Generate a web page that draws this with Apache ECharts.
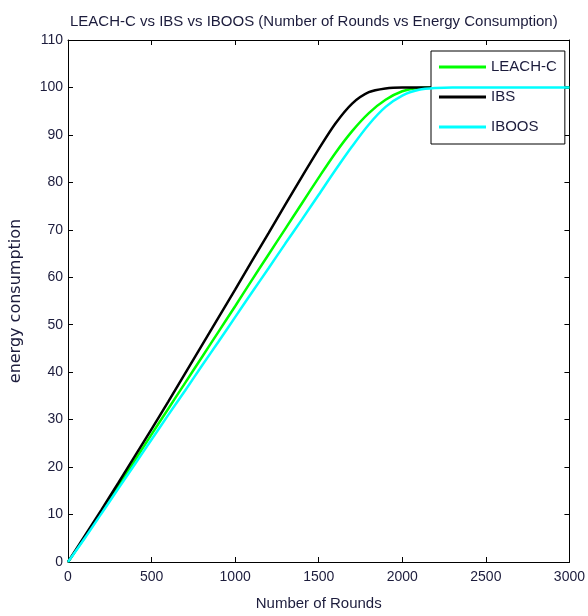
<!DOCTYPE html>
<html>
<head>
<meta charset="utf-8">
<script src="https://cdn.jsdelivr.net/npm/echarts@6/dist/echarts.min.js"></script>
<style>html,body{margin:0;padding:0;background:#fff}#c{width:588px;height:616px}</style>
</head>
<body>
<div id="c"></div>
<script>
const rounds = [0,100,200,300,400,500,600,700,800,900,1000,1100,1200,1300,1400,1500,1600,1700,1800,1900,2000,2100,2200,2300,2400,2500,2600,2700,2800,2900,3000];
const leachC = [0,5.2,10.6,16.0,21.4,26.9,32.3,37.7,43.1,48.5,53.9,59.4,64.8,70.2,75.6,81.0,86.2,90.8,94.6,97.4,99.2,99.9,100,100,100,100,100,100,100,100,100];
const ibs    = [0,5.5,11.0,16.6,22.3,28.0,33.8,39.7,45.6,51.5,57.4,63.4,69.3,75.3,81.2,87.0,92.4,96.6,99.0,99.8,100,100,100,100,100,100,100,100,100,100,100];
const iboos  = [0,5.0,10.2,15.4,20.6,25.8,31.0,36.1,41.3,46.4,51.6,56.8,61.9,67.1,72.2,77.4,82.6,87.6,92.2,95.9,98.3,99.5,99.9,100,100,100,100,100,100,100,100];
const seriesNames = ['LEACH-C','IBS','IBOOS'];
const seriesColors = ['#00ff00','#000000','#00ffff'];
const xTicks = {min:0, max:3000, interval:500};
const yTicks = {min:0, max:110, interval:10};

const FONT = "'Liberation Sans',Arial,sans-serif";
const TXT = '#1c1c3c';
const chart = echarts.init(document.getElementById('c'), null, {renderer:'canvas'});
const pairs = arr => rounds.map((r,i)=>[r, arr[i]]);
const baseAxis = {
  axisLine:{show:true, onZero:false, lineStyle:{color:'#000', width:1}},
  axisTick:{show:true, inside:true, length:5, lineStyle:{color:'#000'}},
  splitLine:{show:false}
};
chart.setOption({
  animation:false,
  backgroundColor:'#fff',
  title:{
    text:'LEACH-C vs IBS vs IBOOS (Number of Rounds vs Energy Consumption)',
    left:65, top:9,
    textStyle:{fontFamily:FONT, fontSize:15, fontWeight:'normal', color:TXT}
  },
  grid:{left:62, right:17, top:40, bottom:53},
  legend:{
    orient:'vertical', left:431, top:51,
    data:seriesNames,
    icon:'rect', itemWidth:47, itemHeight:3, itemGap:12,
    padding:[7,8,8,8],
    borderColor:'#000', borderWidth:1, backgroundColor:'#fff',
    textStyle:{fontFamily:FONT, fontSize:15, color:TXT, lineHeight:18}
  },
  xAxis:[
    Object.assign({type:'value', position:'bottom', min:xTicks.min, max:xTicks.max, interval:xTicks.interval,
      name:'Number of Rounds', nameLocation:'middle', nameGap:34,
      nameTextStyle:{fontFamily:FONT, fontSize:15, color:TXT},
      axisLabel:{fontFamily:FONT, fontSize:14, color:TXT, margin:8, formatter:v=>String(v)}}, baseAxis),
    Object.assign({type:'value', position:'top', min:xTicks.min, max:xTicks.max, interval:xTicks.interval,
      axisLabel:{show:false}}, baseAxis)
  ],
  yAxis:[
    Object.assign({type:'value', position:'left', min:yTicks.min, max:yTicks.max, interval:yTicks.interval,
      name:'energy consumption', nameLocation:'middle', nameGap:44,
      nameTextStyle:{fontFamily:"'DejaVu Sans',sans-serif", fontSize:16, color:TXT},
      axisLabel:{fontFamily:FONT, fontSize:14, color:TXT, margin:5, formatter:v=>String(v)}}, baseAxis),
    Object.assign({type:'value', position:'right', min:yTicks.min, max:yTicks.max, interval:yTicks.interval,
      axisLabel:{show:false}}, baseAxis)
  ],
  series:[leachC, ibs, iboos].map((arr,i)=>({
    name:seriesNames[i], type:'line', data:pairs(arr), symbol:'none', smooth:0.3,
    lineStyle:{color:seriesColors[i], width:2.5}, itemStyle:{color:seriesColors[i]},
    xAxisIndex:0, yAxisIndex:0, z:2+i
  }))
});
</script>
</body>
</html>
